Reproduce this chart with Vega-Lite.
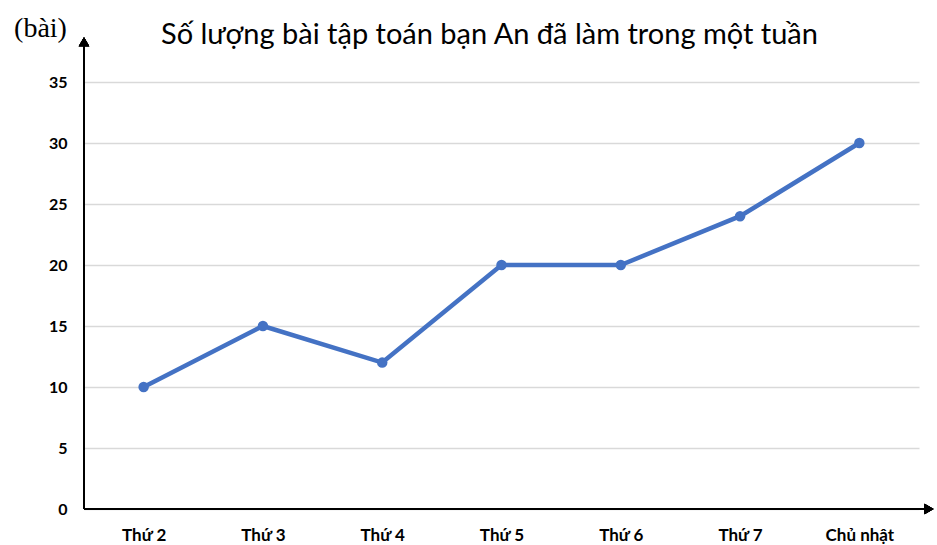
{
  "$schema": "https://vega.github.io/schema/vega-lite/v6.json",
  "autosize": "none",
  "width": 835,
  "height": 427,
  "padding": {"top": 82, "left": 84, "right": 18, "bottom": 36},
  "background": "white",
  "config": {"view": {"stroke": null}},
  "title": {
    "text": "Số lượng bài tập toán bạn An đã làm trong một tuần",
    "font": "Lato",
    "fontSize": 29,
    "fontWeight": "normal",
    "color": "#000000",
    "anchor": "middle",
    "frame": "group",
    "dx": -12,
    "dy": 40
  },
  "data": {
    "values": [
      {"ngay": "Thứ 2", "so_bai": 10},
      {"ngay": "Thứ 3", "so_bai": 15},
      {"ngay": "Thứ 4", "so_bai": 12},
      {"ngay": "Thứ 5", "so_bai": 20},
      {"ngay": "Thứ 6", "so_bai": 20},
      {"ngay": "Thứ 7", "so_bai": 24},
      {"ngay": "Chủ nhật", "so_bai": 30}
    ]
  },
  "resolve": {"scale": {"x": "independent"}, "axis": {"x": "independent"}},
  "layer": [
    {
      "mark": {"type": "line", "color": "#4472c4", "strokeWidth": 4.5, "point": {"filled": true, "size": 110, "color": "#4472c4"}},
      "encoding": {
        "x": {
          "field": "ngay", "type": "nominal", "sort": null,
          "scale": {"paddingInner": 0, "paddingOuter": 0},
          "axis": {"title": null, "domain": false, "ticks": false, "labelAngle": 0, "labelPadding": 18,
                   "labelFont": "Lato", "labelFontSize": 17, "labelFontWeight": "bold", "labelColor": "#000000", "grid": false}
        },
        "y": {
          "field": "so_bai", "type": "quantitative",
          "scale": {"domain": [0, 35], "nice": false},
          "axis": {"values": [0, 5, 10, 15, 20, 25, 30, 35], "domain": false, "ticks": false, "labelPadding": 17,
                   "labelFont": "Lato", "labelFontSize": 16, "labelFontWeight": "bold", "labelColor": "#000000",
                   "grid": true, "gridColor": "#d9d9d9", "gridWidth": 1.5,
                   "title": "(bài)", "titleAngle": 0, "titleAlign": "center", "titleBaseline": "alphabetic",
                   "titleX": -44, "titleY": -46, "titleFont": "Liberation Serif", "titleFontSize": 28,
                   "titleFontWeight": "normal", "titleColor": "#000000"}
        }
      }
    },
    {
      "mark": {"type": "rule", "color": "#000000", "strokeWidth": 2},
      "encoding": {
        "x": {"datum": 0, "type": "quantitative", "scale": {"domain": [0, 1], "nice": false, "zero": false}, "axis": null},
        "y": {"datum": 0, "type": "quantitative", "scale": {"domain": [0, 35], "nice": false}},
        "y2": {"datum": 38.1}
      }
    },
    {
      "mark": {"type": "rule", "color": "#000000", "strokeWidth": 2},
      "encoding": {
        "x": {"datum": 0, "type": "quantitative", "scale": {"domain": [0, 1], "nice": false, "zero": false}, "axis": null},
        "x2": {"datum": 1.008},
        "y": {"datum": 0, "type": "quantitative", "scale": {"domain": [0, 35], "nice": false}}
      }
    },
    {
      "mark": {"type": "point", "shape": "triangle-up", "filled": true, "color": "#000000", "size": 110, "opacity": 1},
      "encoding": {
        "x": {"datum": 0, "type": "quantitative", "scale": {"domain": [0, 1], "nice": false, "zero": false}, "axis": null},
        "y": {"datum": 38.3, "type": "quantitative", "scale": {"domain": [0, 35], "nice": false}}
      }
    },
    {
      "mark": {"type": "point", "shape": "triangle-right", "filled": true, "color": "#000000", "size": 110, "opacity": 1},
      "encoding": {
        "x": {"datum": 1.012, "type": "quantitative", "scale": {"domain": [0, 1], "nice": false, "zero": false}, "axis": null},
        "y": {"datum": 0, "type": "quantitative", "scale": {"domain": [0, 35], "nice": false}}
      }
    }
  ]
}
